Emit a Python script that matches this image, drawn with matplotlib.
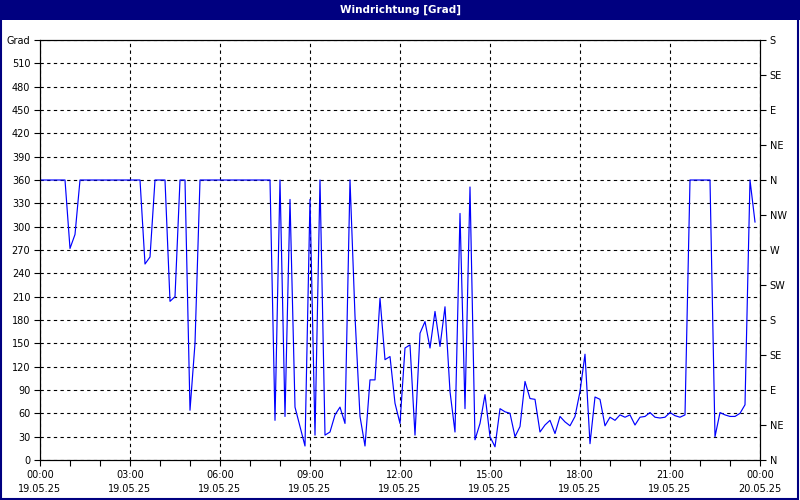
import numpy as np
import pandas as pd
import matplotlib
matplotlib.use("Agg")
import matplotlib.pyplot as plt
import matplotlib.dates as mdates
from matplotlib.patches import Rectangle

# --- Daten: Windrichtung in Grad, alle 10 Minuten ab 19.05.25 00:00 ---
richtung = [
    360, 360, 360, 360, 360, 360, 272, 290, 360, 360,
    360, 360, 360, 360, 360, 360, 360, 360, 360, 360,
    360, 252, 261, 360, 360, 360, 204, 210, 360, 360,
    64, 150, 360, 360, 360, 360, 360, 360, 360, 360,
    360, 360, 360, 360, 360, 360, 360, 51, 360, 56,
    335, 68, 43, 18, 335, 32, 360, 32, 36, 58,
    68, 47, 360, 185, 56, 18, 103, 103, 208, 129,
    133, 73, 47, 144, 148, 32, 163, 178, 144, 191,
    146, 197, 88, 36, 317, 66, 351, 26, 47, 84,
    30, 17, 66, 62, 60, 30, 43, 101, 79, 78,
    36, 45, 51, 34, 56, 49, 44, 56, 88, 136,
    21, 81, 78, 44, 55, 51, 58, 55, 58, 45,
    55, 56, 61, 55, 54, 55, 61, 57, 55, 58,
    360, 360, 360, 360, 360, 30, 61, 58, 56, 56,
    60, 71, 360, 306,
]
zeiten = pd.date_range("2025-05-19 00:00", periods=len(richtung), freq="10min")

grad_ticks = list(range(0, 541, 30))
grad_labels = [str(g) for g in grad_ticks[:-1]] + ["Grad"]
himmel_ticks = list(range(0, 541, 45))
himmel_labels = ["N", "NE", "E", "SE", "S", "SW", "W", "NW", "N", "NE", "E", "SE", "S"]

# --- Farben ---
COR_RAHMEN = "#000080"
COR_LINIE = "#0000FF"

fig = plt.figure(figsize=(8, 5), dpi=100, facecolor="white")
ax = fig.add_axes([0.05, 0.08, 0.90, 0.84])

ax.plot(zeiten, richtung, color=COR_LINIE, linewidth=0.85)

start = pd.Timestamp("2025-05-19 00:00")
ende = pd.Timestamp("2025-05-20 00:00")
ax.set_xlim(start, ende)
ax.set_ylim(0, 540)

ax.xaxis.set_major_locator(mdates.HourLocator(interval=3))
ax.xaxis.set_minor_locator(mdates.HourLocator())
ax.xaxis.set_major_formatter(mdates.DateFormatter("%H:%M\n%d.%m.%y"))
ax.set_yticks(grad_ticks)
ax.set_yticklabels(grad_labels)

ax.tick_params(axis="both", which="both", direction="out", length=4, width=0.8,
               labelsize=7, colors="black", pad=3)
for lab in ax.get_xticklabels():
    lab.set_linespacing(1.55)

ax.grid(True, which="major", color="black", linestyle=(0, (3, 3)), linewidth=0.8)
for spine in ax.spines.values():
    spine.set_color("black")
    spine.set_linewidth(0.8)

# rechte Achse mit Himmelsrichtungen
ax2 = ax.twinx()
ax2.set_ylim(0, 540)
ax2.set_yticks(himmel_ticks)
ax2.set_yticklabels(himmel_labels)
ax2.tick_params(axis="y", direction="out", length=4, width=0.8, labelsize=7, pad=3)

# Titelleiste und Rahmen
fig.patches.append(Rectangle((0, 0.96), 1, 0.04, transform=fig.transFigure,
                             facecolor=COR_RAHMEN, edgecolor="none", zorder=0))
fig.patches.append(Rectangle((0.001, 0.002), 0.997, 0.996, transform=fig.transFigure,
                             facecolor="none", edgecolor=COR_RAHMEN, linewidth=1.5))
fig.text(0.5, 0.98, "Windrichtung [Grad]", color="white", fontsize=7.5,
         fontweight="bold", ha="center", va="center")

fig.savefig("out.png", dpi=100)
